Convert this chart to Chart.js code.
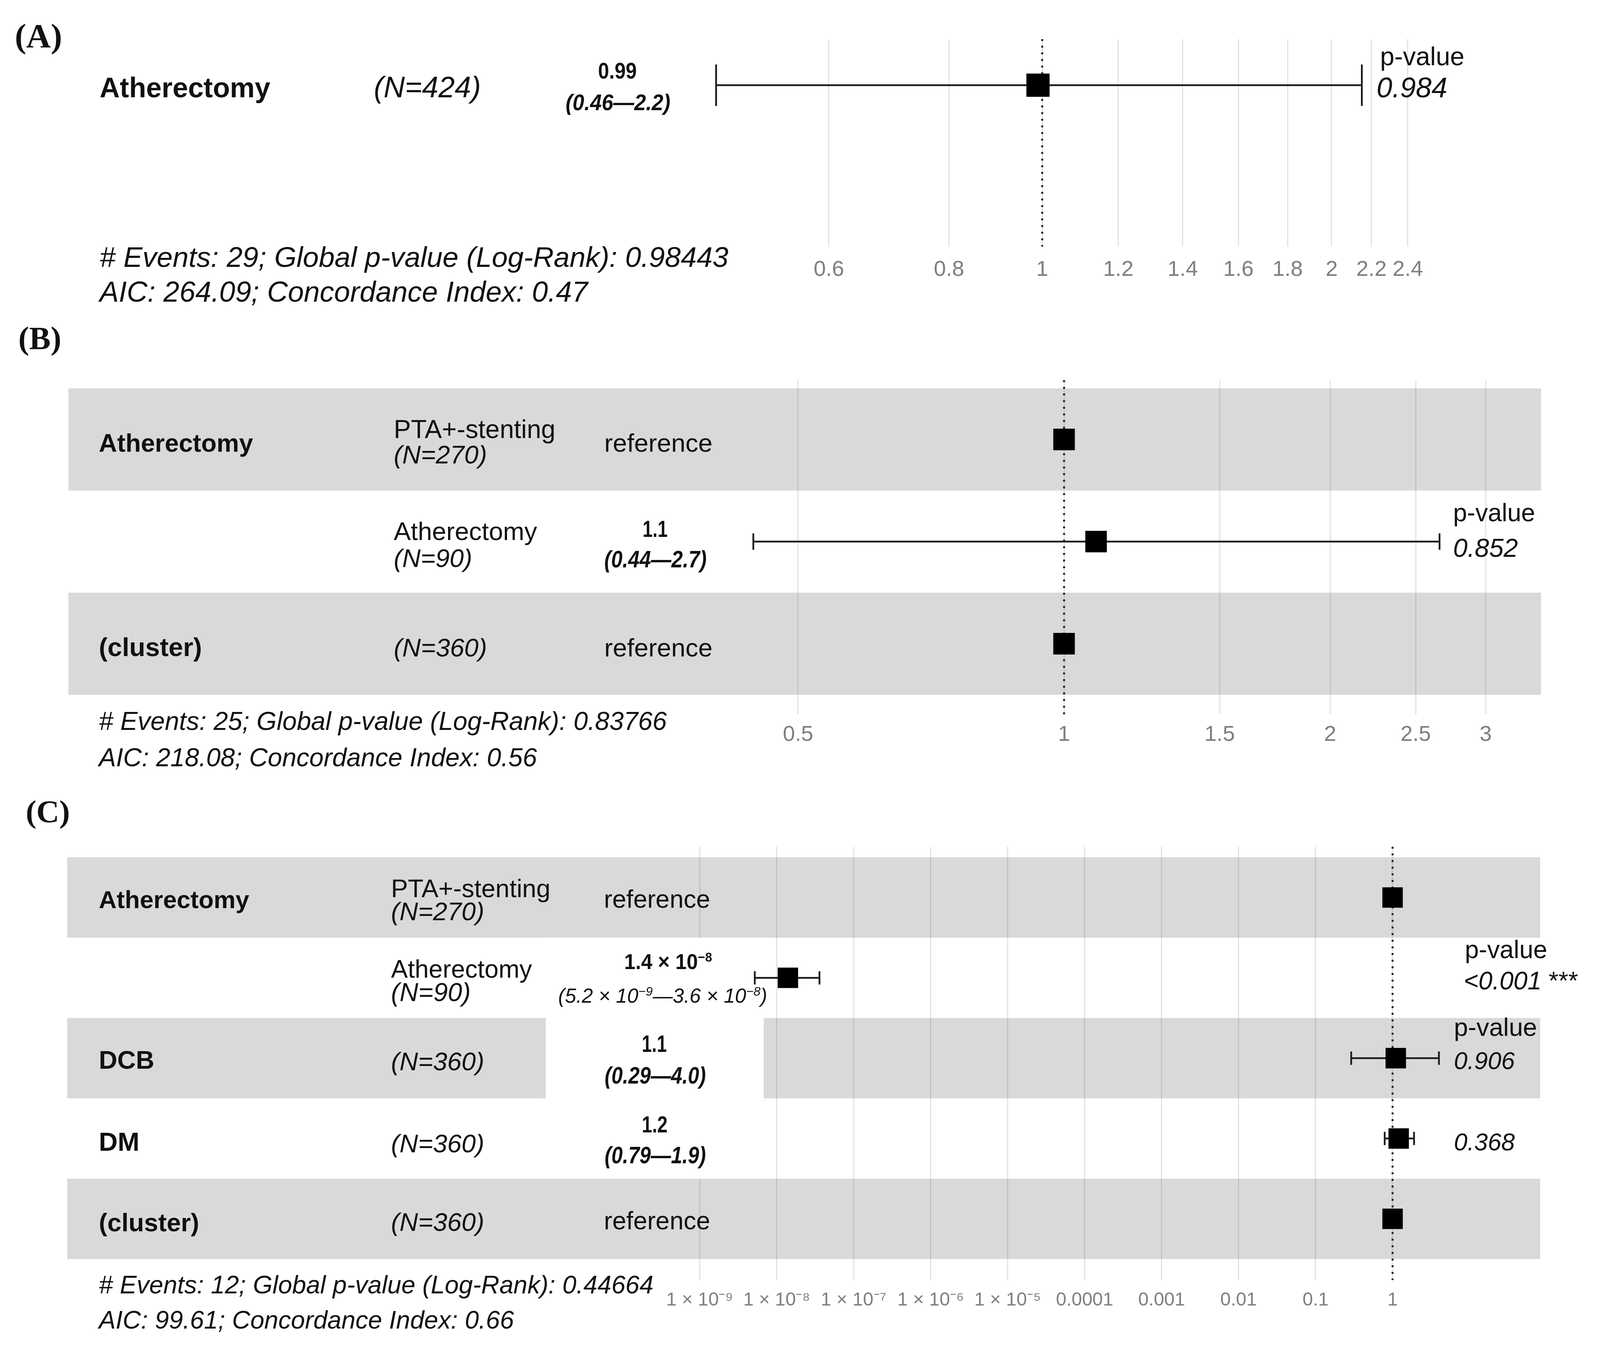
<!DOCTYPE html>
<html>
<head>
<meta charset="utf-8">
<title>Cox model forest plots</title>
<script src="https://cdn.jsdelivr.net/npm/chart.js@4.4.1/dist/chart.umd.min.js"></script>
<style>
  html, body { margin: 0; padding: 0; background: #fff; overflow: hidden; }
  #page { position: relative; width: 4107px; height: 3483px; background: #fff; }
  canvas { position: absolute; left: 0; z-index: 1; }
  .t { position: absolute; white-space: nowrap; z-index: 2; transform-origin: 0 0;
       font-family: "Liberation Sans", Arial, sans-serif; color: #111; }
  .t sup { font-size: 0.62em; line-height: 0; vertical-align: 0.55em; }
</style>
</head>
<body>
<div id="page">
  <canvas id="chartA"></canvas>
  <canvas id="chartB"></canvas>
  <canvas id="chartC"></canvas>
</div>
<script>
// ---- panel A: single covariate ----
const ticksA = [0.6, 0.8, 1, 1.2, 1.4, 1.6, 1.8, 2, 2.2, 2.4];
const tickLabelsA = ["0.6", "0.8", "1", "1.2", "1.4", "1.6", "1.8", "2", "2.2", "2.4"];
const varsA = ["Atherectomy"];
const nA = ["(N=424)"];
const estA = ["0.99"];
const ciA = ["(0.46\u20142.2)"];
const pA = ["0.984"];
const hrA = [0.99];
const lowA = [0.458];
const highA = [2.15];
const statsA = ["# Events: 29; Global p-value (Log-Rank): 0.98443", "AIC: 264.09; Concordance Index: 0.47"];

// ---- panel B: atherectomy + cluster ----
const ticksB = [0.5, 1, 1.5, 2, 2.5, 3];
const tickLabelsB = ["0.5", "1", "1.5", "2", "2.5", "3"];
const varsB = ["Atherectomy", "", "(cluster)"];
const levelsB = ["PTA+-stenting", "Atherectomy", ""];
const nB = ["(N=270)", "(N=90)", "(N=360)"];
const estB = ["reference", "1.1", "reference"];
const ciB = ["", "(0.44\u20142.7)", ""];
const pB = ["", "0.852", ""];
const hrB = [1, 1.087, 1];
const lowB = [null, 0.445, null];
const highB = [null, 2.66, null];
const statsB = ["# Events: 25; Global p-value (Log-Rank): 0.83766", "AIC: 218.08; Concordance Index: 0.56"];

// ---- panel C: atherectomy + DCB + DM + cluster ----
const ticksC = [1e-9, 1e-8, 1e-7, 1e-6, 1e-5, 1e-4, 1e-3, 0.01, 0.1, 1];
const tickLabelsC = ["1 \u00d7 10\u207b\u2079", "1 \u00d7 10\u207b\u2078", "1 \u00d7 10\u207b\u2077", "1 \u00d7 10\u207b\u2076",
                     "1 \u00d7 10\u207b\u2075", "0.0001", "0.001", "0.01", "0.1", "1"];
const varsC = ["Atherectomy", "", "DCB", "DM", "(cluster)"];
const levelsC = ["PTA+-stenting", "Atherectomy", "", "", ""];
const nC = ["(N=270)", "(N=90)", "(N=360)", "(N=360)", "(N=360)"];
const estC = ["reference", "1.4 \u00d7 10<sup>\u22128</sup>", "1.1", "1.2", "reference"];
const ciC = ["", "(5.2 \u00d7 10<sup>\u22129</sup>\u20143.6 \u00d7 10<sup>\u22128</sup>)", "(0.29\u20144.0)", "(0.79\u20141.9)", ""];
const pC = ["", "&lt;0.001", "0.906", "0.368", ""];
const starsC = ["", "***", "", "", ""];
const hrC = [1, 1.4e-8, 1.1, 1.2, 1];
const lowC = [null, 5.2e-9, 0.29, 0.79, null];
const highC = [null, 3.6e-8, 4.0, 1.9, null];
const statsC = ["# Events: 12; Global p-value (Log-Rank): 0.44664", "AIC: 99.61; Concordance Index: 0.66"];

const W = 4107;
const AXIS_H = 130;
const page = document.getElementById("page");

// bands, reference line, error bars drawn through the chart's own scales
function forestPlugin(cfg) {
    return {
        id: "forest",
        beforeDraw(chart) {
            const { ctx, scales: { y } } = chart;
            ctx.save();
            ctx.fillStyle = "#d9d9d9";
            cfg.bands.forEach((i) => {
                const y0 = y.getPixelForValue(i + 0.5);
                const y1 = y.getPixelForValue(i + 1.5);
                ctx.fillRect(cfg.bandX[0], y0, cfg.bandX[1] - cfg.bandX[0], y1 - y0);
            });
            ctx.restore();
        },
        beforeDatasetsDraw(chart) {
            const { ctx, chartArea, scales: { x, y } } = chart;
            ctx.save();
            if (cfg.mask) {
                const y0 = y.getPixelForValue(cfg.mask[2]);
                const y1 = y.getPixelForValue(cfg.mask[3]);
                ctx.fillStyle = "#fff";
                ctx.fillRect(cfg.mask[0], y0, cfg.mask[1] - cfg.mask[0], y1 - y0);
            }
            const x1 = x.getPixelForValue(1);
            ctx.strokeStyle = "#222";
            ctx.lineWidth = 5;
            ctx.setLineDash([5, 12]);
            ctx.beginPath();
            ctx.moveTo(x1, chartArea.top);
            ctx.lineTo(x1, chartArea.bottom);
            ctx.stroke();
            ctx.setLineDash([]);
            ctx.strokeStyle = "#1a1a1a";
            ctx.lineWidth = cfg.lw;
            cfg.low.forEach((lo, i) => {
                if (lo == null) return;
                const yy = y.getPixelForValue(i + 1);
                const xa = x.getPixelForValue(lo);
                const xb = x.getPixelForValue(cfg.high[i]);
                const h = cfg.cap / 2;
                ctx.beginPath();
                ctx.moveTo(xa, yy); ctx.lineTo(xb, yy);
                ctx.moveTo(xa, yy - h); ctx.lineTo(xa, yy + h);
                ctx.moveTo(xb, yy - h); ctx.lineTo(xb, yy + h);
                ctx.stroke();
            });
            ctx.restore();
        }
    };
}

function forest(id, cfg) {
    const cv = document.getElementById(id);
    cv.width = W;
    cv.height = cfg.bottom + AXIS_H - cfg.top;
    cv.style.top = cfg.top + "px";
    const left = cfg.one + Math.log(cfg.min) * cfg.perLn;
    const right = cfg.one + Math.log(cfg.max) * cfg.perLn;
    return new Chart(cv, {
        type: "scatter",
        data: {
            datasets: [{
                data: cfg.hr.map((v, i) => ({ x: v, y: i + 1 })),
                pointStyle: "rect",
                pointRadius: cfg.r,
                pointHoverRadius: cfg.r,
                backgroundColor: "#000",
                borderWidth: 0
            }]
        },
        options: {
            responsive: false,
            animation: false,
            devicePixelRatio: 1,
            events: [],
            layout: { padding: { left: left, right: W - right, top: cfg.gridTop - cfg.top, bottom: 0 } },
            plugins: { legend: { display: false }, tooltip: { enabled: false } },
            scales: {
                x: {
                    type: "logarithmic",
                    min: cfg.min,
                    max: cfg.max,
                    bounds: "data",
                    afterBuildTicks: (s) => { s.ticks = cfg.ticks.map((v) => ({ value: v })); },
                    afterFit: (s) => { s.height = AXIS_H; },
                    grid: { color: "rgba(0,0,0,0.11)", lineWidth: 3, drawTicks: false },
                    border: { display: false },
                    ticks: {
                        autoSkip: false,
                        maxRotation: 0,
                        minRotation: 0,
                        padding: cfg.tickPad,
                        color: "#7f7f7f",
                        font: { family: "Liberation Sans", size: cfg.tickSize },
                        callback: (v, i) => cfg.tickLabels[i]
                    }
                },
                y: { type: "linear", display: false, reverse: true, min: cfg.ymin, max: cfg.ymax }
            }
        },
        plugins: [forestPlugin(cfg)]
    });
}

forest("chartA", {
    top: 0, gridTop: 100, bottom: 631, ymin: 0.5, ymax: 2.75,
    one: 2668, perLn: 1069, min: 0.43, max: 2.6,
    ticks: ticksA, tickLabels: tickLabelsA, tickSize: 56, tickPad: 26,
    hr: hrA, low: lowA, high: highA, r: 42, lw: 4.5, cap: 106,
    bands: [], bandX: [172, 3943]
});

forest("chartB", {
    top: 880, gridTop: 973, bottom: 1828, ymin: 0.4198, ymax: 3.691,
    one: 2724, perLn: 982.5, min: 0.42, max: 3.3,
    ticks: ticksB, tickLabels: tickLabelsB, tickSize: 56, tickPad: 19,
    hr: hrB, low: lowB, high: highB, r: 39, lw: 4.5, cap: 42,
    bands: [0, 2], bandX: [175, 3945]
});

forest("chartC", {
    top: 2130, gridTop: 2167, bottom: 3276, ymin: 0.3687, ymax: 5.7626,
    one: 3565, perLn: 197.1 / Math.LN10, min: 5e-10, max: 10,
    ticks: ticksC, tickLabels: tickLabelsC, tickSize: 48, tickPad: 23,
    hr: hrC, low: lowC, high: highC, r: 37, lw: 4.5, cap: 34,
    bands: [0, 2, 4], bandX: [172, 3943], mask: [1397, 1955, 1.5, 4.5]
});

// text placed by left edge, right edge and baseline.
// default: font size fitted to the width; "c": size kept, glyphs squeezed to the width
function put(html, x0, x1, base, size, style) {
    const d = document.createElement("div");
    d.className = "t";
    d.innerHTML = html;
    d.style.fontSize = size + "px";
    d.style.lineHeight = size + "px";
    if (style.includes("b")) d.style.fontWeight = "bold";
    if (style.includes("i")) d.style.fontStyle = "italic";
    if (style.includes("s")) d.style.fontFamily = '"Liberation Serif", "Times New Roman", serif';
    page.appendChild(d);
    const w = d.getBoundingClientRect().width;
    const k = style.includes("s") ? 0.8375 : 0.8465;
    let fs = size;
    if (style.includes("c")) {
        d.style.transform = "scaleX(" + ((x1 - x0) / w) + ")";
    } else {
        fs = size * (x1 - x0) / w;
        d.style.fontSize = fs + "px";
        d.style.lineHeight = fs + "px";
    }
    d.style.left = x0 + "px";
    d.style.top = (base - k * fs) + "px";
}

// panel A
put("(A)", 38, 159, 121, 78, "bs");
put(varsA[0], 255, 692, 250, 60, "b");
put(nA[0], 957, 1231, 250, 60, "i");
put(estA[0], 1531, 1630, 201, 58, "bc");
put(ciA[0], 1448, 1716, 282, 58, "bic");
put("p-value", 3533, 3749, 168, 50, "");
put(pA[0], 3524, 3705, 249, 70, "i");
put(statsA[0], 255, 1865, 683, 60, "i");
put(statsA[1], 255, 1505, 772, 60, "i");

// panel B
put("(B)", 47, 157, 893, 78, "bs");
put(varsB[0], 253, 648, 1157, 64, "b");
put(levelsB[0], 1008, 1422, 1122, 58, "");
put(nB[0], 1008, 1247, 1187, 60, "i");
put(estB[0], 1547, 1824, 1157, 58, "");
put(levelsB[1], 1008, 1375, 1382, 58, "");
put(nB[1], 1008, 1209, 1451, 60, "i");
put(estB[1], 1645, 1709, 1375, 60, "bc");
put(ciB[1], 1547, 1809, 1452, 62, "bic");
put(varsB[2], 253, 517, 1680, 64, "b");
put(nB[2], 1008, 1247, 1681, 60, "i");
put(estB[2], 1547, 1824, 1681, 58, "");
put("p-value", 3720, 3930, 1334, 50, "");
put(pB[1], 3720, 3886, 1425, 68, "i");
put(statsB[0], 253, 1707, 1868, 57, "i");
put(statsB[1], 253, 1375, 1962, 57, "i");

// panel C
put("(C)", 66, 179, 2104, 78, "bs");
put(varsC[0], 253, 638, 2324, 62, "b");
put(levelsC[0], 1001, 1409, 2297, 58, "");
put(nC[0], 1001, 1240, 2356, 60, "i");
put(estC[0], 1546, 1818, 2324, 58, "");
put(levelsC[1], 1001, 1362, 2502, 58, "");
put(nC[1], 1001, 1205, 2562, 60, "i");
put(estC[1], 1598, 1823, 2481, 55, "bc");
put(ciC[1], 1429, 1964, 2566, 52, "ic");
put(varsC[2], 253, 395, 2735, 62, "b");
put(nC[2], 1001, 1240, 2740, 60, "i");
put(estC[2], 1643, 1707, 2693, 61, "bc");
put(ciC[2], 1548, 1807, 2773, 62, "bic");
put(varsC[3], 253, 357, 2946, 62, "b");
put(nC[3], 1001, 1240, 2950, 60, "i");
put(estC[3], 1643, 1709, 2899, 60, "bc");
put(ciC[3], 1548, 1807, 2977, 62, "bic");
put(varsC[4], 253, 510, 3151, 62, "b");
put(nC[4], 1001, 1240, 3151, 60, "i");
put(estC[4], 1546, 1818, 3147, 58, "");
put("p-value", 3750, 3961, 2452, 50, "");
put('<span style="font-style:italic">' + pC[1] + "</span> " + starsC[1], 3747, 4040, 2533, 60, "");
put("p-value", 3722, 3935, 2652, 50, "");
put(pC[2], 3722, 3878, 2737, 60, "i");
put(pC[3], 3722, 3878, 2945, 60, "i");
put(statsC[0], 253, 1673, 3311, 57, "i");
put(statsC[1], 253, 1316, 3401, 57, "i");
</script>
</body>
</html>
